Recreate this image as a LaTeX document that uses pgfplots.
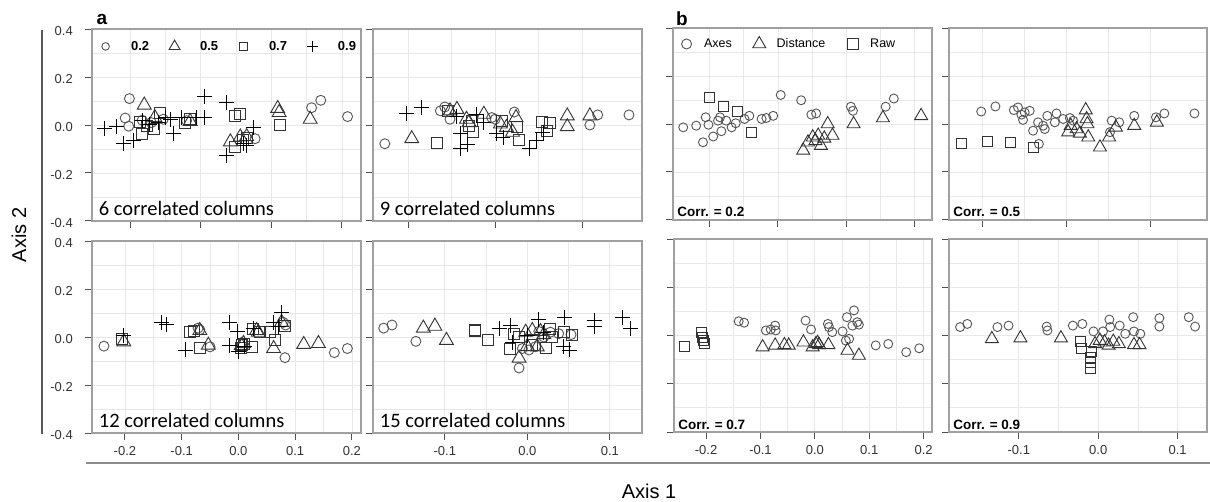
\documentclass[border=0pt]{standalone}
\usepackage{fontspec}
\setmainfont{Liberation Sans}
\newfontfamily\carlito{Carlito}
\usepackage{pgfplots}
\pgfplotsset{compat=1.18}
\definecolor{ccirc}{HTML}{555555}
\definecolor{cdark}{HTML}{333333}
\definecolor{cgrid}{HTML}{E8E8E8}
\definecolor{cframe}{HTML}{A0A0A0}
\definecolor{ctick}{HTML}{505050}
\tikzset{
  lab/.style={anchor=base west, inner sep=0pt, font=\carlito\fontsize{20.5}{24}\selectfont},
  corr/.style={anchor=base west, inner sep=0pt, font=\bfseries\fontsize{13.5}{16}\selectfont},
}
\pgfplotsset{
  panel/.style={
    scale only axis, height=192pt,
    ymin=-0.4, ymax=0.4,
    ytick={-0.4,-0.2,0,0.2,0.4},
    minor y tick num=1, minor x tick num=1,
    grid=both, major grid style={cgrid, line width=0.8pt}, minor grid style={cgrid, line width=0.8pt},
    axis line style={cframe, line width=1.1pt},
    tick align=outside, major tick length=7pt, minor tick length=0pt,
    every tick/.style={ctick, line width=1pt},
    xtick pos=left, ytick pos=left,
    xticklabels={}, yticklabels={},
    ticklabel style={font=\fontsize{13}{15}\selectfont, text=cdark, inner sep=0pt},
    yticklabel style={xshift=-12pt, yshift=-2pt},
    xticklabel style={yshift=-6pt},
  },
  pA/.style={only marks, forget plot, line width=0.9pt},
  c1/.style={pA, mark=o, mark size=5pt, color=ccirc},
  t1/.style={pA, mark=triangle, mark size=8pt, color=cdark},
  s1/.style={pA, mark=square, mark size=5.5pt, color=cdark},
  p1/.style={pA, mark=+, mark size=7.5pt, color=black},
  c2/.style={pA, mark=o, mark size=4.5pt, color=ccirc},
  t2/.style={pA, mark=triangle, mark size=7.5pt, color=cdark},
  s2/.style={pA, mark=square, mark size=5pt, color=cdark},
}
\begin{document}
\begin{tikzpicture}
\useasboundingbox (0pt,0pt) rectangle (1210pt,501pt);
\fill[white] (0pt,0pt) rectangle (1210pt,501pt);
\draw[line width=1.5pt, black!65] (42pt,471pt) -- (42pt,67pt);
\draw[line width=2pt, black!45] (86pt,38pt) -- (1210pt,38pt);
\node[font=\fontsize{20}{24}\selectfont] at (649pt,10pt) {Axis 1};
\node[rotate=90, font=\fontsize{20}{24}\selectfont] at (19pt,266pt) {Axis 2};
\node[font=\bfseries\fontsize{19}{21}\selectfont] at (102pt,482pt) {a};
\node[font=\bfseries\fontsize{19}{21}\selectfont] at (682pt,482pt) {b};

% ---------- A1: 6 correlated columns ----------
\begin{axis}[panel, at={(92pt,280pt)}, anchor=south west, width=269pt,
  xmin=-0.254, xmax=0.127, xtick={-0.2,-0.1,0,0.1},
  yticklabels={-0.4,-0.2,0.0,0.2,0.4},
  legend style={draw=none, fill=none, at={(0.011,0.911)}, anchor=west, legend columns=4, inner sep=0pt,
    font=\bfseries\fontsize{13}{15}\selectfont, nodes={inner sep=0pt},
    /tikz/every odd column/.append style={column sep=15pt},
    /tikz/every even column/.append style={column sep=15pt}},
  legend image code/.code={\path (-10pt,-4pt) (10pt,4pt); \draw[#1] plot coordinates {(0pt,0pt)};}]
\addplot[c1] coordinates {(-0.201,0.110) (-0.207,0.029) (-0.202,-0.005) (-0.183,0.020) (-0.170,0.010) (-0.153,0.024) (-0.120,0.018) (-0.023,-0.057) (0.057,0.072) (0.070,0.103) (0.108,0.035)};
\addplot[t1] coordinates {(-0.180,0.083) (-0.165,0.031) (-0.115,0.015) (-0.058,-0.070) (-0.044,-0.050) (-0.035,-0.048) (0.009,0.069) (0.011,0.052) (0.055,0.024)};
\addplot[s1] coordinates {(-0.186,0.011) (-0.183,-0.037) (-0.176,-0.003) (-0.166,-0.016) (-0.158,0.052) (-0.122,0.007) (-0.115,0.024) (-0.051,0.038) (-0.045,0.045) (-0.051,-0.091) (-0.040,-0.064) (-0.035,-0.053) (0.012,0.000)};
\addplot[p1] coordinates {(-0.237,-0.014) (-0.219,-0.007) (-0.210,-0.075) (-0.195,-0.064) (-0.183,0.018) (-0.172,0.004) (-0.160,0.010) (-0.150,0.030) (-0.143,0.024) (-0.139,-0.037) (-0.128,0.030) (-0.106,0.031) (-0.095,0.030) (-0.095,0.120) (-0.063,0.095) (-0.063,-0.125) (-0.040,-0.078) (-0.035,-0.085) (-0.025,-0.010)};
\addlegendimage{mark=o, mark size=3.8pt, color=ccirc, line width=0.9pt}\addlegendentry{0.2}
\addlegendimage{mark=triangle, mark size=6.3pt, color=cdark, line width=0.9pt}\addlegendentry{0.5}
\addlegendimage{mark=square, mark size=3.8pt, color=cdark, line width=0.9pt}\addlegendentry{0.7}
\addlegendimage{mark=+, mark size=5.7pt, color=black, line width=0.9pt}\addlegendentry{0.9}
\node[lab] at (axis description cs:0.025,0.028) {6 correlated columns};
\end{axis}

% ---------- A2: 9 correlated columns ----------
\begin{axis}[panel, at={(373pt,280pt)}, anchor=south west, width=269pt,
  xmin=-0.1406, xmax=0.169, xtick={-0.1,0,0.1}]
\addplot[c1] coordinates {(-0.127,-0.078) (-0.063,0.059) (-0.058,0.075) (-0.052,0.024) (0.022,0.054) (0.109,0.000) (0.118,0.042) (0.154,0.042) (0.000,0.024) (-0.004,0.031)};
\addplot[t1] coordinates {(-0.096,-0.057) (-0.052,0.059) (-0.044,0.065) (-0.033,0.024) (-0.030,0.010) (-0.013,0.045) (0.006,0.004) (0.013,-0.010) (0.020,-0.030) (0.024,0.031) (0.083,0.038) (0.083,-0.007) (0.109,0.038)};
\addplot[s1] coordinates {(-0.067,-0.075) (-0.054,0.059) (-0.030,-0.005) (-0.027,0.018) (-0.025,-0.030) (0.008,0.018) (0.025,-0.010) (0.027,-0.064) (0.054,0.011) (0.063,0.007) (0.060,-0.026)};
\addplot[p1] coordinates {(-0.102,0.048) (-0.085,0.075) (-0.045,0.035) (-0.040,-0.037) (-0.040,-0.098) (-0.032,-0.080) (-0.021,0.045) (-0.013,0.011) (0.002,-0.034) (0.009,-0.050) (0.040,-0.098) (0.048,-0.064) (0.055,-0.030)};
\node[lab] at (axis description cs:0.025,0.028) {9 correlated columns};
\end{axis}

% ---------- A3: 12 correlated columns ----------
\begin{axis}[panel, at={(92pt,68pt)}, anchor=south west, width=269pt,
  xmin=-0.258, xmax=0.216, xtick={-0.2,-0.1,0,0.1,0.2},
  xticklabels={-0.2,-0.1,0.0,0.1,0.2}, yticklabels={-0.4,-0.2,0.0,0.2,0.4}]
\addplot[c1] coordinates {(-0.237,-0.038) (-0.071,0.037) (-0.068,0.030) (-0.050,-0.041) (0.082,-0.086) (0.079,0.061) (0.083,0.050) (0.169,-0.065) (0.192,-0.048)};
\addplot[t1] coordinates {(-0.202,-0.020) (-0.068,0.027) (-0.053,-0.034) (0.005,-0.035) (0.009,-0.027) (0.032,0.027) (0.035,0.020) (0.062,-0.048) (0.076,0.061) (0.115,-0.031) (0.141,-0.027)};
\addplot[s1] coordinates {(-0.206,-0.007) (-0.086,0.020) (-0.079,0.027) (-0.068,-0.045) (0.005,-0.045) (0.006,-0.034) (0.010,-0.030) (0.024,-0.041) (0.026,0.034) (0.038,0.020) (0.056,0.020) (0.065,-0.014) (0.082,0.048)};
\addplot[p1] coordinates {(-0.203,0.007) (-0.135,0.061) (-0.126,0.054) (-0.094,-0.054) (-0.016,0.061) (-0.002,0.023) (-0.015,-0.034) (0.000,-0.061) (0.010,-0.040) (0.026,0.034) (0.062,0.061) (0.070,0.045) (0.076,0.102)};
\node[lab] at (axis description cs:0.025,0.028) {12 correlated columns};
\end{axis}

% ---------- A4: 15 correlated columns ----------
\begin{axis}[panel, at={(373pt,68pt)}, anchor=south west, width=269pt,
  xmin=-0.187, xmax=0.139, xtick={-0.1,0,0.1}, xticklabels={-0.1,0.0,0.1}]
\addplot[c1] coordinates {(-0.174,0.037) (-0.164,0.050) (-0.135,-0.018) (-0.010,-0.129) (-0.006,-0.048) (0.002,-0.054) (0.010,-0.040) (0.014,0.023) (0.020,0.000) (0.028,0.020) (0.038,0.014) (0.053,0.010)};
\addplot[t1] coordinates {(-0.126,0.037) (-0.112,0.045) (-0.098,-0.014) (-0.010,-0.088) (-0.002,0.020) (0.000,-0.040) (0.006,0.027) (0.012,-0.041) (0.016,0.023) (0.020,0.010)};
\addplot[s1] coordinates {(-0.064,0.031) (-0.064,0.025) (-0.048,-0.011) (-0.021,-0.050) (-0.016,0.014) (-0.010,0.000) (0.006,-0.034) (0.022,-0.045) (0.028,0.034) (0.030,0.000) (0.044,0.020) (0.054,0.010)};
\addplot[p1] coordinates {(-0.034,0.034) (-0.020,0.050) (-0.018,-0.023) (0.000,0.005) (0.014,0.075) (0.020,0.020) (0.045,0.082) (0.044,-0.041) (0.051,-0.054) (0.081,0.068) (0.081,0.045) (0.115,0.082) (0.125,0.034)};
\node[lab] at (axis description cs:0.025,0.028) {15 correlated columns};
\end{axis}

% ---------- B1: Corr 0.2 ----------
\begin{axis}[panel, at={(673pt,281pt)}, anchor=south west, width=259pt,
  xmin=-0.254, xmax=0.126, xtick={-0.2,-0.1,0,0.1},
  legend style={draw=none, fill=none, at={(0.019,0.922)}, anchor=west, legend columns=3, inner sep=0pt,
    font=\fontsize{12.5}{15}\selectfont, nodes={inner sep=0pt},
    /tikz/every odd column/.append style={column sep=9pt},
    /tikz/every even column/.append style={column sep=19pt}},
  legend image code/.code={\path (-8pt,-4pt) (8pt,4pt); \draw[#1] plot coordinates {(0pt,0pt)};}]
\addplot[c2] coordinates {(-0.239,-0.014) (-0.220,-0.007) (-0.210,-0.076) (-0.206,0.028) (-0.202,-0.003) (-0.195,-0.052) (-0.188,0.014) (-0.183,-0.030) (-0.185,0.028) (-0.176,0.014) (-0.168,-0.014) (-0.162,0.003) (-0.149,0.021) (-0.142,0.034) (-0.124,0.021) (-0.117,0.025) (-0.107,0.034) (-0.096,0.121) (-0.066,0.099) (-0.051,0.039) (-0.044,0.044) (0.007,0.072) (0.010,0.055) (0.058,0.072) (0.070,0.106)};
\addplot[t2] coordinates {(-0.063,-0.110) (-0.056,-0.076) (-0.049,-0.055) (-0.045,-0.070) (-0.041,-0.048) (-0.037,-0.090) (-0.032,-0.060) (-0.027,0.000) (-0.020,-0.048) (0.011,0.000) (0.054,0.025) (0.110,0.034)};
\addplot[s2] coordinates {(-0.201,0.110) (-0.180,0.072) (-0.160,0.052) (-0.139,-0.034)};
\addlegendimage{mark=o, mark size=5pt, color=ccirc, line width=0.9pt}\addlegendentry{Axes}
\addlegendimage{mark=triangle, mark size=7.5pt, color=cdark, line width=0.9pt}\addlegendentry{Distance}
\addlegendimage{mark=square, mark size=5.5pt, color=cdark, line width=0.9pt}\addlegendentry{Raw}
\node[corr] at (axis description cs:0.016,0.016) {Corr. = 0.2};
\end{axis}

% ---------- B2: Corr 0.5 ----------
\begin{axis}[panel, at={(949pt,281pt)}, anchor=south west, width=258pt,
  xmin=-0.1405, xmax=0.168, xtick={-0.1,0,0.1}]
\addplot[c2] coordinates {(-0.102,0.052) (-0.085,0.073) (-0.063,0.058) (-0.058,0.069) (-0.054,0.039) (-0.050,0.048) (-0.044,0.055) (-0.052,0.017) (-0.040,-0.028) (-0.034,0.007) (-0.033,-0.083) (-0.028,-0.007) (-0.026,-0.021) (-0.023,0.034) (-0.014,0.007) (-0.012,0.044) (-0.004,0.021) (0.004,0.025) (0.008,0.014) (0.054,0.014) (0.052,-0.034) (0.063,0.007) (0.081,0.034) (0.107,0.028) (0.117,0.044) (0.153,0.044)};
\addplot[t2] coordinates {(0.002,-0.034) (0.005,-0.007) (0.012,-0.021) (0.016,-0.039) (0.023,0.058) (0.024,0.021) (0.025,0.000) (0.026,-0.055) (0.040,-0.097) (0.051,-0.055) (0.059,-0.014) (0.081,-0.007) (0.108,0.007)};
\addplot[s2] coordinates {(-0.126,-0.080) (-0.094,-0.073) (-0.067,-0.076) (-0.040,-0.097)};
\node[corr] at (axis description cs:0.016,0.016) {Corr. = 0.5};
\end{axis}

% ---------- B3: Corr 0.7 ----------
\begin{axis}[panel, at={(674pt,69pt)}, anchor=south west, width=258pt, height=193pt,
  xmin=-0.259, xmax=0.2155, xtick={-0.2,-0.1,0,0.1,0.2}, xticklabels={-0.2,-0.1,0.0,0.1,0.2}]
\addplot[c2] coordinates {(-0.140,0.059) (-0.130,0.053) (-0.090,0.021) (-0.081,0.025) (-0.073,0.041) (-0.072,0.021) (-0.017,0.062) (-0.007,0.025) (0.024,0.048) (0.026,0.035) (0.032,0.014) (0.051,0.017) (0.057,-0.021) (0.063,-0.014) (0.059,0.076) (0.072,0.104) (0.069,0.041) (0.078,0.055) (0.081,0.045) (0.112,-0.041) (0.135,-0.035) (0.168,-0.069) (0.192,-0.053)};
\addplot[t2] coordinates {(-0.096,-0.048) (-0.073,-0.041) (-0.056,-0.039) (-0.048,-0.041) (-0.021,-0.028) (-0.004,-0.048) (0.002,-0.035) (0.005,-0.030) (0.008,-0.039) (0.025,-0.039) (0.060,-0.062) (0.081,-0.083)};
\addplot[s2] coordinates {(-0.240,-0.044) (-0.208,0.011) (-0.206,-0.007) (-0.205,-0.021) (-0.203,-0.035)};
\node[corr] at (axis description cs:0.016,0.014) {Corr. = 0.7};
\end{axis}

% ---------- B4: Corr 0.9 ----------
\begin{axis}[panel, at={(949pt,69pt)}, anchor=south west, width=258pt, height=193pt,
  xmin=-0.188, xmax=0.137, xtick={-0.1,0,0.1}, xticklabels={-0.1,0.0,0.1}]
\addplot[c2] coordinates {(-0.174,0.035) (-0.165,0.048) (-0.127,0.035) (-0.113,0.041) (-0.065,0.037) (-0.064,0.021) (-0.032,0.041) (-0.020,0.048) (-0.006,0.017) (0.006,0.017) (0.014,0.066) (0.015,0.035) (0.027,0.041) (0.034,0.007) (0.044,0.076) (0.045,0.017) (0.053,0.007) (0.077,0.072) (0.077,0.037) (0.114,0.076) (0.122,0.037)};
\addplot[t2] coordinates {(-0.134,-0.014) (-0.098,-0.011) (-0.047,-0.011) (-0.004,-0.035) (0.002,-0.021) (0.008,-0.028) (0.013,-0.041) (0.019,-0.025) (0.026,-0.035) (0.045,-0.039) (0.052,-0.039)};
\addplot[s2] coordinates {(-0.022,-0.025) (-0.021,-0.055) (-0.010,-0.090) (-0.010,-0.111) (-0.010,-0.136) (-0.008,-0.066)};
\node[corr] at (axis description cs:0.016,0.014) {Corr. = 0.9};
\end{axis}
\end{tikzpicture}
\end{document}
